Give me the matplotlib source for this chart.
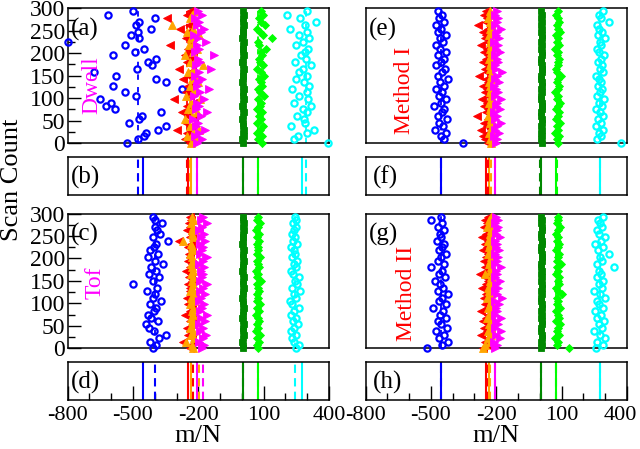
import matplotlib
matplotlib.use("Agg")
import matplotlib.pyplot as plt
import matplotlib.transforms as mtransforms
from matplotlib.ticker import MultipleLocator

plt.rcParams["font.family"] = ["Liberation Serif", "DejaVu Serif"]
plt.rcParams["axes.unicode_minus"] = False

# scan counts shared by every series
scans = [0, 8, 15, 23, 30, 38, 45, 53, 60, 68, 75, 83, 90, 98, 105, 113, 120, 128, 135, 143,
         150, 158, 165, 173, 180, 188, 195, 203, 210, 218, 225, 233, 240, 248, 255, 263, 270, 278, 285, 293]

# ---- Dwell (a)
blue_dwell = [-526, -475, -450, -440, -385, -348, -519, -473, -457, -372, -582, -625, -603, -652, -487, -535, -277,
              -590, -348, -395, -578, -678, -483, -412, -430, -395, -593, -492, -449, -537, -797, -473, -510, -476,
              -417, -486, -473, -399, -614, -499]
red_dwell = [-240, -262, -228, -250, -300, -235, -255, -218, -245, -275, -230, -250, -225, -310, -240, -258, -232, -248,
             -222, -270, -244, -236, -290, -228, -252, -240, -262, -226, -246, -330, -238, -255, -232, -248, -285, -242,
             -226, -346, -250, -236]
orange_dwell = [-235, -210, -250, -222, -198, -240, -215, -262, -228, -205, -245, -218, -232, -190, -255, -224, -210,
                -240, -200, -230, -215, -248, -222, -180, -236, -212, -260, -226, -205, -242, -218, -232, -195, -250,
                -224, -320, -210, -238, -228, -215]
magenta_dwell = [-205, -185, -215, -195, -170, -210, -200, -225, -188, -160, -212, -198, -205, -175, -220, -192, -150,
                 -208, -200, -182, -215, -196, -140, -210, -190, -202, -130, -214, -195, -205, -165, -200, -218, -188,
                 -175, -206, -198, -215, -185, -203]
dkgreen_dwell = [6, 3, 8, 5, 9, 4, 7, 2, 6, 10, 5, 3, 7, 8, 4, 6, 9, 5, 2, 7, 6, 4, 8, 5, 3, 7, 9, 6, 4, 5, 8, 3, 6, 7,
                 5, 9, 4, 6, 8, 5]
green_dwell = [95, 75, 92, 70, 85, 98, 72, 88, 78, 95, 68, 84, 90, 76, 102, 82, 74, 94, 86, 79, 100, 88, 71, 96, 83, 77,
               91, 86, 112, 80, 75, 140, 98, 84, 72, 106, 90, 78, 96, 88]
cyan_dwell = [395, 240, 260, 300, 330, 225, 290, 285, 255, 300, 280, 320, 240, 305, 265, 298, 230, 310, 285, 250, 300,
              262, 280, 318, 245, 295, 272, 290, 305, 248, 282, 310, 262, 298, 222, 290, 340, 268, 210, 300]

# ---- Tof (c)
blue_tof = [-410, -395, -420, -380, -350, -405, -425, -440, -385, -415, -430, -405, -395, -420, -370, -410, -400, -435,
            -390, -500, -410, -380, -425, -395, -415, -360, -400, -430, -385, -420, -405, -395, -340, -410, -375, -390,
            -400, -365, -400, -410]
red_tof = [-240, -232, -270, -228, -245, -236, -250, -225, -240, -230, -262, -238, -228, -246, -234, -252, -226, -240,
           -236, -248, -230, -244, -232, -256, -238, -228, -246, -236, -242, -230, -248, -234, -290, -240, -228, -250,
           -236, -244, -232, -240]
orange_tof = [-225, -230, -255, -220, -232, -226, -238, -218, -228, -234, -222, -230, -226, -240, -224, -232, -220,
              -236, -228, -224, -230, -226, -234, -222, -228, -232, -224, -230, -236, -226, -228, -232, -270, -224,
              -230, -228, -226, -234, -222, -230]
magenta_tof = [-185, -175, -195, -180, -165, -190, -178, -198, -170, -188, -160, -192, -182, -174, -196, -186, -168,
               -190, -180, -158, -194, -184, -176, -188, -172, -196, -180, -162, -190, -184, -178, -192, -170, -186,
               -175, -195, -182, -160, -188, -180]
dkgreen_tof = [5, 7, 3, 6, 8, 4, 5, 9, 6, 3, 7, 5, 8, 4, 6, 2, 7, 5, 9, 6, 4, 8, 5, 3, 7, 6, 9, 4, 5, 8, 6, 3, 7, 5, 4,
               8, 6, 9, 5, 7]
green_tof = [74, 68, 78, 72, 82, 66, 76, 70, 80, 74, 64, 78, 72, 84, 70, 76, 68, 80, 74, 72, 86, 70, 76, 66, 78, 74, 72,
             82, 68, 76, 74, 70, 80, 72, 78, 66, 74, 82, 70, 76]
cyan_tof = [250, 262, 240, 232, 250, 225, 240, 258, 235, 248, 228, 240, 262, 232, 222, 250, 238, 268, 230, 254, 244,
            262, 236, 228, 250, 240, 256, 232, 246, 238, 228, 252, 236, 244, 230, 240, 250, 236, 248, 244]

# ---- Method I (e)
blue_m1 = [-353, -440, -455, -430, -480, -445, -462, -425, -470, -450, -438, -485, -455, -430, -465, -448, -475, -440,
           -458, -420, -468, -450, -435, -478, -452, -442, -468, -430, -458, -475, -445, -460, -432, -470, -455, -478,
           -440, -462, -448, -470]
red_m1 = [-240, -250, -262, -238, -270, -244, -255, -236, -290, -248, -240, -258, -242, -266, -238, -252, -244, -260,
          -236, -248, -280, -242, -254, -238, -262, -246, -240, -256, -244, -270, -238, -250, -246, -262, -240, -285,
          -248, -242, -258, -245]
orange_m1 = [-225, -228, -220, -232, -224, -218, -230, -226, -236, -222, -228, -224, -232, -220, -226, -230, -222, -228,
             -234, -224, -226, -220, -230, -228, -224, -232, -222, -226, -230, -224, -228, -222, -234, -226, -228, -224,
             -230, -236, -226, -228]
magenta_m1 = [-200, -195, -210, -188, -205, -198, -180, -208, -195, -212, -185, -202, -198, -176, -206, -192, -200,
              -210, -186, -204, -196, -172, -202, -208, -190, -198, -205, -182, -200, -194, -210, -188, -202, -196,
              -178, -204, -198, -190, -206, -196]
dkgreen_m1 = [8, 6, 10, 7, 9, 5, 8, 11, 7, 6, 9, 8, 10, 6, 7, 9, 5, 8, 10, 7, 6, 9, 8, 11, 7, 5, 9, 8, 6, 10, 7, 9, 8,
              6, 10, 7, 8, 5, 9, 7]
green_m1 = [82, 78, 90, 72, 86, 80, 94, 76, 84, 88, 74, 82, 92, 78, 86, 70, 84, 90, 78, 82, 96, 80, 74, 86, 82, 90, 78,
            84, 72, 88, 80, 86, 76, 92, 82, 78, 88, 84, 76, 82]
cyan_m1 = [375, 262, 280, 270, 292, 258, 282, 268, 290, 275, 260, 286, 272, 296, 264, 278, 288, 266, 282, 274, 260,
           290, 276, 284, 268, 280, 294, 270, 262, 282, 276, 300, 268, 285, 272, 262, 318, 280, 270, 290]

# ---- Method II (g)
blue_m2 = [-517, -450, -420, -462, -440, -475, -425, -455, -470, -430, -460, -445, -490, -430, -465, -450, -420, -470,
           -445, -458, -480, -435, -462, -450, -498, -440, -468, -455, -430, -465, -448, -438, -472, -455, -460, -440,
           -470, -450, -500, -455]
red_m2 = [-260, -242, -250, -236, -268, -244, -255, -238, -262, -246, -240, -272, -244, -252, -236, -258, -248, -240,
          -264, -246, -238, -254, -276, -242, -250, -236, -258, -246, -240, -262, -244, -252, -238, -266, -246, -240,
          -256, -244, -250, -240]
orange_m2 = [-262, -250, -228, -236, -222, -240, -226, -232, -220, -244, -228, -224, -236, -230, -222, -242, -226, -232,
             -238, -224, -230, -226, -250, -228, -222, -234, -230, -226, -240, -224, -232, -228, -236, -222, -230,
             -226, -244, -228, -232, -226]
magenta_m2 = [-205, -195, -210, -185, -200, -176, -206, -194, -202, -180, -208, -196, -200, -188, -204, -172, -198,
              -206, -190, -200, -184, -208, -196, -202, -178, -204, -198, -192, -206, -186, -200, -196, -208, -182,
              -202, -198, -190, -206, -194, -200]
dkgreen_m2 = [7, 9, 6, 8, 10, 7, 5, 9, 8, 6, 10, 7, 9, 8, 5, 7, 9, 6, 8, 10, 7, 9, 6, 8, 7, 5, 9, 8, 10, 6, 7, 9, 8, 6,
              7, 10, 8, 6, 9, 7]
green_m2 = [133, 78, 86, 72, 90, 80, 84, 94, 76, 88, 82, 74, 92, 80, 86, 78, 100, 84, 76, 88, 82, 90, 74, 86, 80, 96,
            78, 84, 88, 76, 82, 90, 80, 86, 74, 84, 92, 78, 86, 82]
cyan_m2 = [258, 290, 262, 300, 276, 250, 288, 270, 296, 262, 280, 254, 290, 272, 264, 298, 278, 248, 286, 270, 292,
           264, 282, 274, 340, 262, 286, 276, 320, 268, 290, 256, 280, 302, 270, 262, 288, 278, 266, 292]

# reference values (solid) and per-method estimates (dashed)
# order: blue, red, orange, magenta, dark green, green, cyan
ref_lines = [-452, -245, -232, -208, 4, 75, 276]
dwell_lines = [-479, -250, -238, -208, 5, 74, 295]
tof_lines = [-400, -222, -198, -176, 4, 74, 244]
m1_lines = [-452, -240, -226, -204, 3, 78, 276]
m2_lines = [-452, -242, -228, -204, 4, 76, 277]

colors = ["blue", "red", "#ffa500", "magenta", "#008800", "#00ff00", "cyan"]
markers = ["o", "<", "^", ">", "s", "D", "o"]
filled = [False, True, True, True, True, True, False]
sizes = [4.5, 5.5, 5.5, 5.5, 4.0, 4.0, 4.5]

panels = [
    ("(a)", "Dwell", "magenta", [blue_dwell, red_dwell, orange_dwell, magenta_dwell, dkgreen_dwell, green_dwell,
                                 cyan_dwell], dwell_lines, "(b)"),
    ("(c)", "Tof", "magenta", [blue_tof, red_tof, orange_tof, magenta_tof, dkgreen_tof, green_tof, cyan_tof],
     tof_lines, "(d)"),
    ("(e)", "Method I", "red", [blue_m1, red_m1, orange_m1, magenta_m1, dkgreen_m1, green_m1, cyan_m1],
     m1_lines, "(f)"),
    ("(g)", "Method II", "red", [blue_m2, red_m2, orange_m2, magenta_m2, dkgreen_m2, green_m2, cyan_m2],
     m2_lines, "(h)"),
]

fig = plt.figure(figsize=(6.4, 4.49), dpi=100)

col_x = [0.1058, 0.5714]
w = 0.408
big_y = [0.6815, 0.2243]
thin_y = [0.5657, 0.1091]
big_h = 0.300
thin_h = 0.084
text_pos = {"Dwell": (0.094, 0.43), "Tof": (0.105, 0.485), "Method I": (0.15, 0.39), "Method II": (0.155, 0.41)}

for k, (lab, name, ncol, series, dlines, tlab) in enumerate(panels):
    col = k // 2
    row = k % 2
    ax = fig.add_axes([col_x[col], big_y[row], w, big_h])
    for x, c in zip(dlines, colors):
        ax.axvline(x, color=c, ls=(0, (3, 4)), lw=1.3, zorder=1)
    for vals, c, m, f, s in zip(series, colors, markers, filled, sizes):
        ax.plot(vals, scans, ls="none", marker=m, ms=s, mec=c, mfc=c if f else "none",
                mew=0.6 if f else 1.6, zorder=3, clip_on=False)
    ax.set_xlim(-800, 400)
    ax.set_ylim(0, 300)
    ax.set_xticks([])
    if col == 0:
        ax.yaxis.set_major_locator(MultipleLocator(50))
        ax.yaxis.set_minor_locator(MultipleLocator(25))
        ax.tick_params(axis="y", which="major", direction="in", length=9, width=1, labelsize=17, pad=2)
        ax.tick_params(axis="y", which="minor", direction="in", length=5, width=1)
    else:
        ax.set_yticks([])
    ax.text(0.012, 0.845, lab, transform=ax.transAxes, fontsize=18, va="center", ha="left", zorder=5)
    tx, ty = text_pos[name]
    ax.text(tx, ty, name, transform=ax.transAxes, fontsize=17, color=ncol, rotation=90,
            va="center", ha="center", zorder=5)
    for sp in ax.spines.values():
        sp.set_linewidth(1.1)

    # thin panel with the line positions
    bx = fig.add_axes([col_x[col], thin_y[row], w, thin_h])
    for x, c in zip(ref_lines, colors):
        bx.axvline(x, color=c, lw=1.5)
    for x, c in zip(dlines, colors):
        bx.axvline(x, color=c, lw=1.5, ls=(0, (4, 2.5)))
    bx.set_xlim(-800, 400)
    bx.set_ylim(0, 1)
    bx.set_yticks([])
    bx.text(0.012 if col == 0 else 0.028, 0.47, tlab, transform=bx.transAxes, fontsize=18, va="center", ha="left")
    for sp in bx.spines.values():
        sp.set_linewidth(1.1)
    if row == 1:
        bx.set_xticks([-800, -500, -200, 100, 400])
        bx.xaxis.set_minor_locator(MultipleLocator(100))
        bx.tick_params(axis="x", which="major", direction="in", length=10, width=1, labelsize=16, pad=4)
        bx.tick_params(axis="x", which="minor", direction="in", length=5, width=1)
        bx.set_xlabel("m/N", fontsize=19, labelpad=0)
        if col == 1:
            # keep the last label inside the canvas
            last = bx.get_xticklabels()[-1]
            shift = mtransforms.ScaledTranslation(-5 / 72, 0, fig.dpi_scale_trans)
            last.set_transform(last.get_transform() + shift)
    else:
        bx.set_xticks([])

fig.text(0.019, 0.599, "Scan Count", rotation=90, fontsize=19, va="center", ha="center")

fig.savefig("out.png", dpi=100)
